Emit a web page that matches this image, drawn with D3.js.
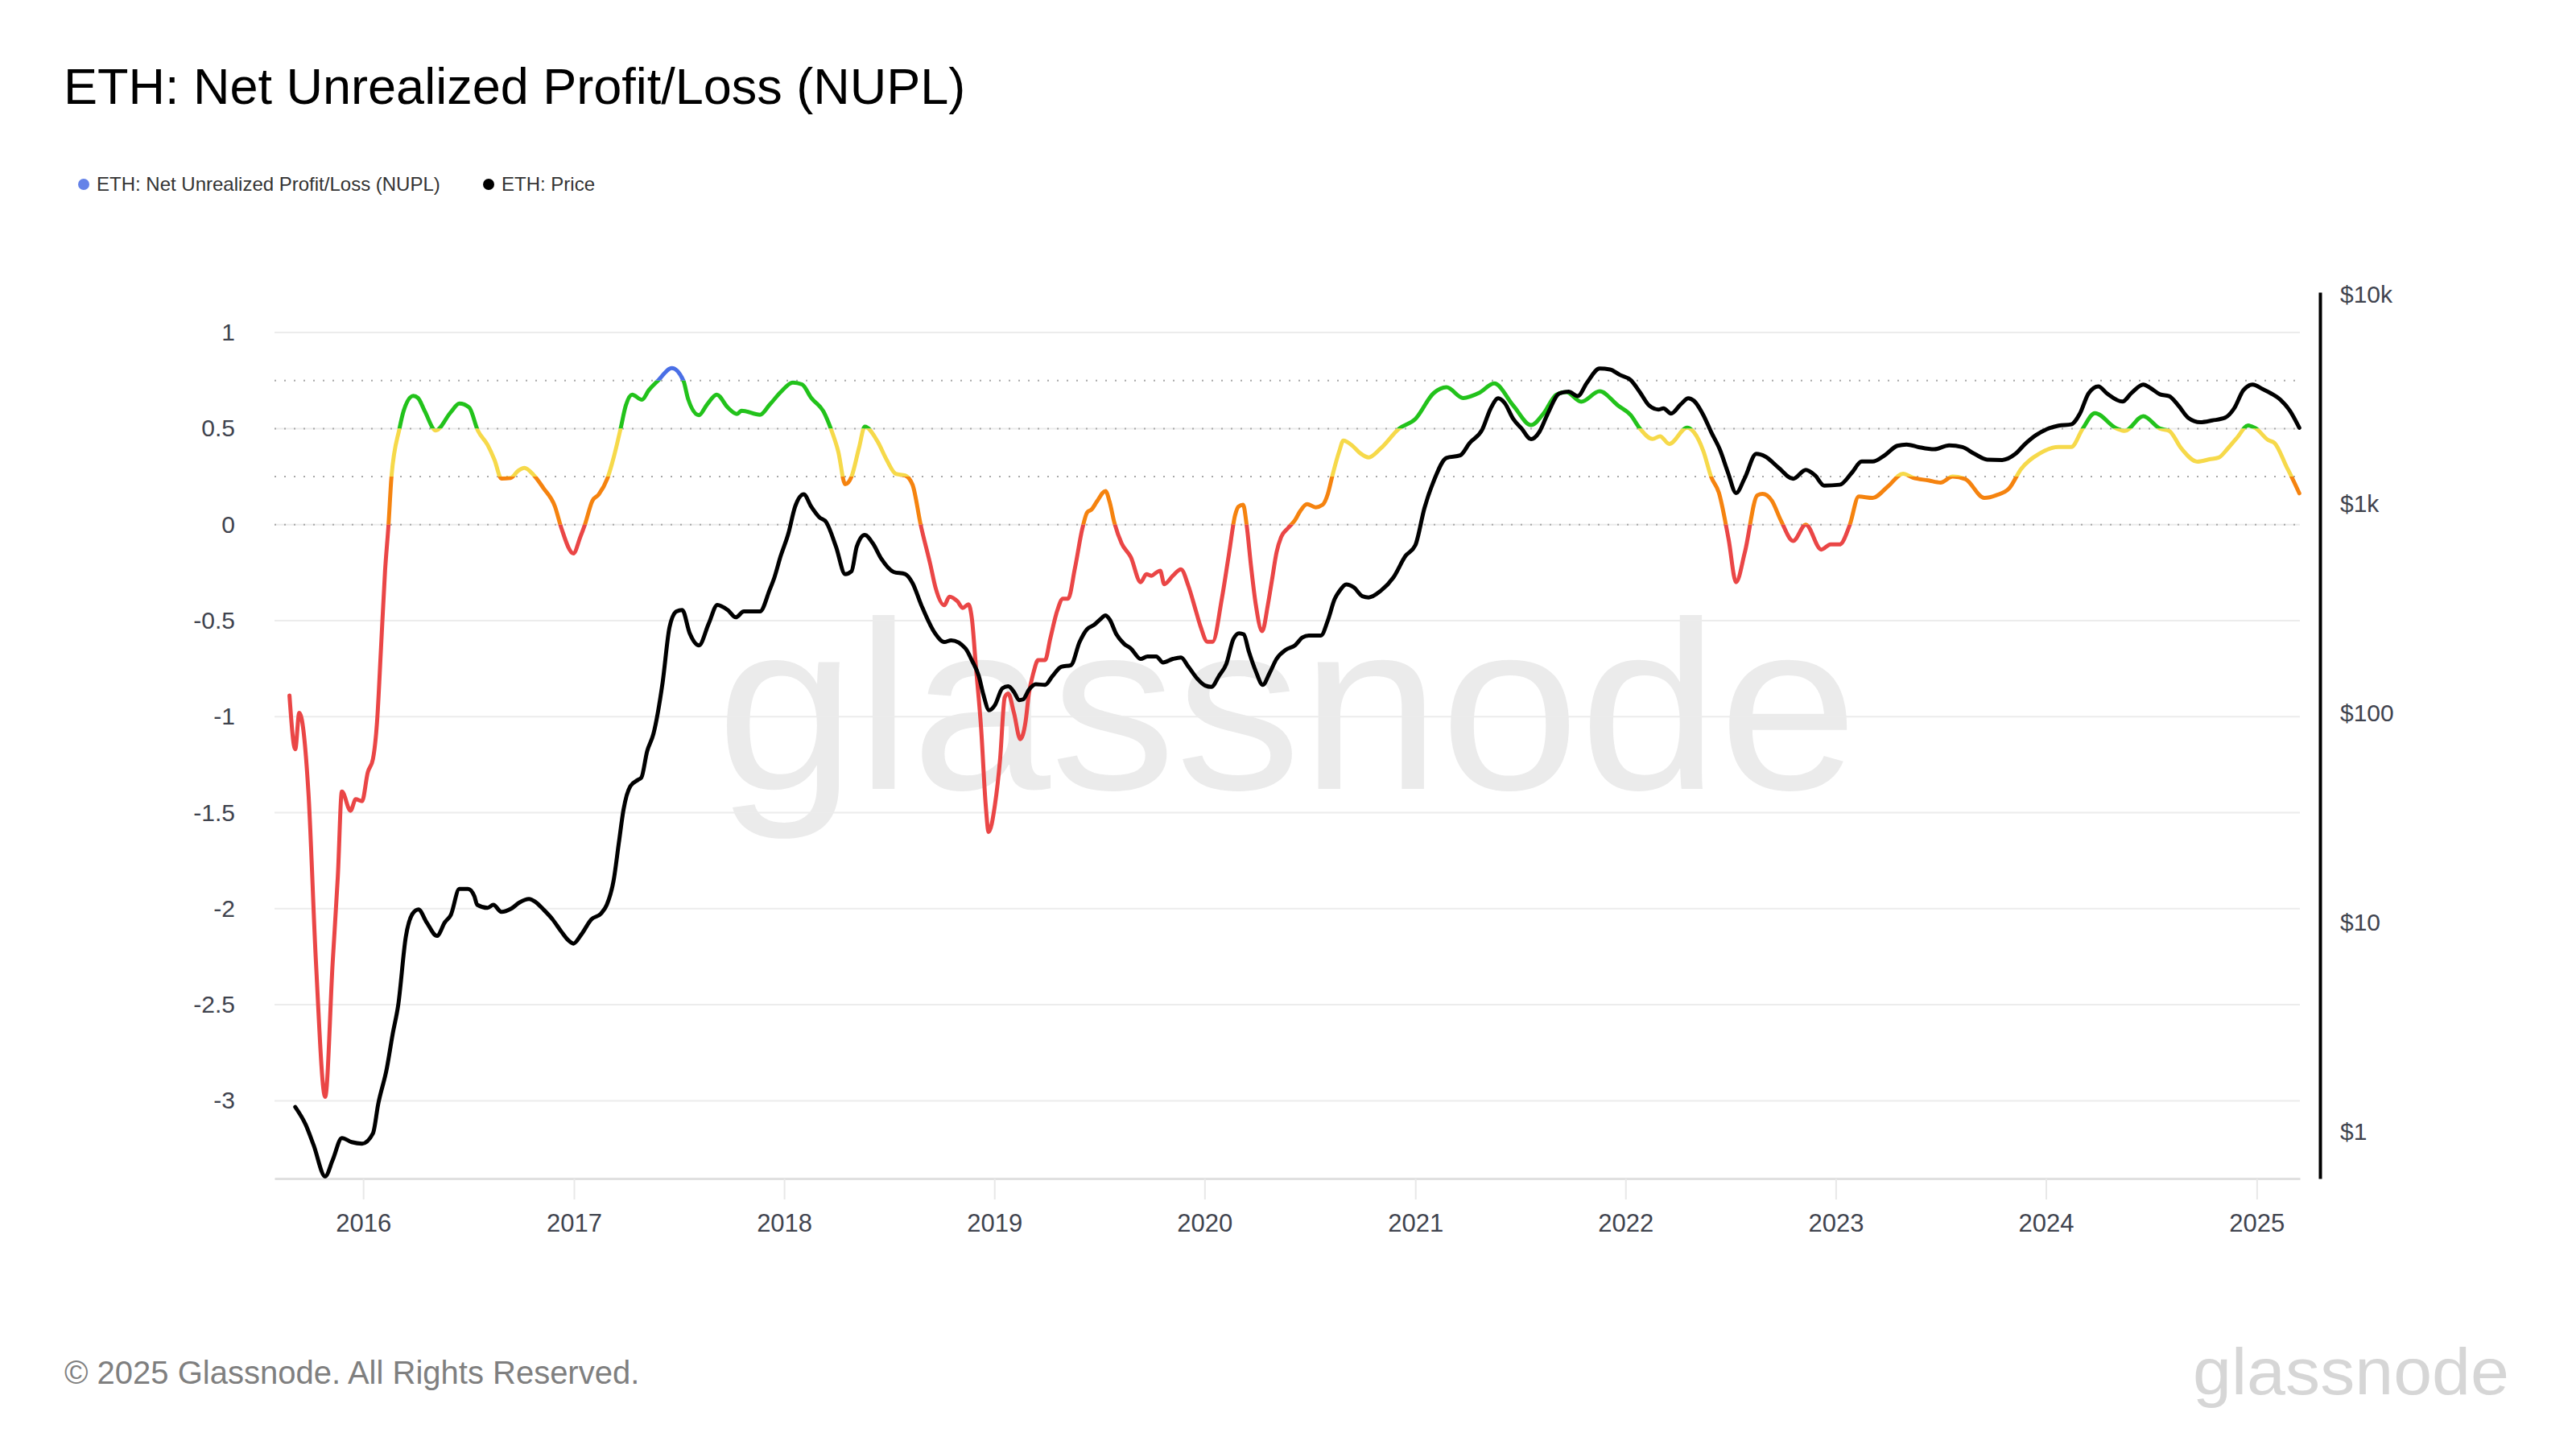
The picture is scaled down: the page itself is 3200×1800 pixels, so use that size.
<!DOCTYPE html>
<html><head><meta charset="utf-8">
<script src="https://cdn.jsdelivr.net/npm/d3@7"></script>
<style>
html,body{margin:0;padding:0;background:#fff;}
svg{display:block;}
text{font-family:"Liberation Sans",Arial,Helvetica,sans-serif;}
</style></head><body>
<svg id="chart" width="3200" height="1800"></svg>
<script>
// ---------------- DATA ----------------
const nuplDates = ["2015-08-26","2015-09-05","2015-09-12","2015-09-28","2015-10-11","2015-10-27","2015-11-09","2015-11-18","2015-11-25","2015-12-10","2015-12-19","2015-12-30",
"2016-01-09","2016-01-18","2016-01-25","2016-02-01","2016-02-08","2016-02-14","2016-02-19","2016-03-04","2016-03-11","2016-03-28","2016-04-05","2016-04-17","2016-05-06","2016-06-01","2016-06-16","2016-07-03","2016-07-18","2016-08-04","2016-08-16","2016-08-28","2016-09-13","2016-09-26","2016-10-07","2016-10-23","2016-11-09","2016-11-29","2016-12-10","2016-12-31",
"2017-01-12","2017-01-20","2017-02-02","2017-02-13","2017-02-28","2017-03-11","2017-03-23","2017-04-01","2017-04-12","2017-04-29","2017-05-11","2017-05-27","2017-06-20","2017-07-10","2017-07-18","2017-08-06","2017-08-20","2017-09-06","2017-09-25","2017-10-11","2017-10-19","2017-11-20","2017-12-07","2017-12-26",
"2018-01-16","2018-02-01","2018-02-17","2018-03-11","2018-03-23","2018-04-05","2018-04-17","2018-04-28","2018-05-11","2018-05-21","2018-06-12","2018-06-28","2018-07-14","2018-07-30","2018-08-12","2018-08-26","2018-09-12","2018-09-21","2018-10-06","2018-10-15","2018-10-29","2018-11-07","2018-11-17","2018-11-23","2018-11-30","2018-12-09","2018-12-17","2018-12-22",
"2019-01-02","2019-01-11","2019-01-19","2019-01-25","2019-02-04","2019-02-15","2019-02-24","2019-03-02","2019-03-10","2019-03-18","2019-03-30","2019-04-08","2019-04-20","2019-04-30","2019-05-09","2019-05-21","2019-06-03","2019-06-11","2019-06-19","2019-06-28","2019-07-13","2019-07-20","2019-07-28","2019-08-10","2019-08-26","2019-09-12","2019-09-22","2019-10-01","2019-10-09","2019-10-16","2019-10-23","2019-11-07","2019-11-21","2019-12-04","2019-12-17","2019-12-25",
"2020-01-06","2020-01-15","2020-01-31","2020-02-12","2020-02-23","2020-02-29","2020-03-08","2020-03-14","2020-03-22","2020-03-30","2020-04-10","2020-04-20","2020-04-27","2020-05-05","2020-05-13","2020-05-25","2020-06-06","2020-06-15","2020-06-27","2020-07-12","2020-07-24","2020-08-02","2020-08-10","2020-08-22","2020-08-29","2020-09-14","2020-09-28","2020-10-12","2020-11-02","2020-12-04",
"2021-01-01","2021-02-02","2021-02-24","2021-03-25","2021-04-22","2021-05-18","2021-06-20","2021-07-21","2021-08-12","2021-09-03","2021-09-20","2021-10-16","2021-11-17","2021-12-19",
"2022-01-10","2022-01-26","2022-02-17","2022-03-02","2022-03-18","2022-04-18","2022-04-30","2022-05-16","2022-05-30","2022-06-12","2022-06-29","2022-07-12","2022-07-27","2022-08-18","2022-08-27","2022-09-12","2022-09-28","2022-10-19","2022-11-10","2022-12-07","2022-12-23",
"2023-01-08","2023-01-25","2023-02-10","2023-03-06","2023-04-02","2023-04-28","2023-05-15","2023-06-11","2023-07-02","2023-07-23","2023-08-14","2023-09-16","2023-10-07","2023-10-29","2023-11-19","2023-12-21",
"2024-01-23","2024-02-14","2024-03-05","2024-03-26","2024-05-03","2024-05-17","2024-06-18","2024-07-17","2024-08-02","2024-08-23","2024-09-20","2024-10-11","2024-10-27","2024-11-12","2024-11-28","2024-12-17","2024-12-30",
"2025-01-21","2025-02-01","2025-02-22","2025-03-03","2025-03-16"];
const nuplValues = [-0.89,-1.17,-0.98,-1.40,-2.28,-2.98,-2.28,-1.83,-1.39,-1.49,-1.43,-1.44,
-1.29,-1.22,-1.03,-0.64,-0.24,0.0,0.245,0.50,0.59,0.67,0.66,0.59,0.49,0.585,0.63,0.61,0.49,0.415,0.337,0.24,0.243,0.28,0.295,0.258,0.19,0.094,-0.017,-0.15,
-0.065,0.0,0.124,0.157,0.24,0.35,0.50,0.62,0.677,0.65,0.70,0.75,0.815,0.75,0.656,0.57,0.625,0.677,0.61,0.576,0.593,0.572,0.625,0.69,
0.74,0.73,0.66,0.585,0.50,0.38,0.21,0.25,0.40,0.51,0.434,0.337,0.264,0.256,0.207,0.0,-0.21,-0.33,-0.42,-0.375,-0.40,-0.434,-0.415,-0.49,-0.74,-1.06,-1.46,-1.60,
-1.46,-1.22,-0.90,-0.88,-0.98,-1.117,-1.03,-0.88,-0.77,-0.706,-0.706,-0.595,-0.45,-0.386,-0.386,-0.226,-0.018,0.063,0.079,0.12,0.175,0.12,0.015,-0.098,-0.17,-0.30,-0.258,-0.266,-0.25,-0.24,-0.31,-0.266,-0.233,-0.32,-0.45,-0.53,
-0.61,-0.61,-0.386,-0.16,0.048,0.094,0.103,0.0,-0.224,-0.417,-0.555,-0.417,-0.29,-0.145,-0.065,-0.018,0.023,0.07,0.107,0.09,0.103,0.159,0.255,0.383,0.438,0.41,0.37,0.35,0.397,0.50,
0.55,0.685,0.715,0.659,0.686,0.735,0.62,0.518,0.58,0.677,0.69,0.64,0.694,0.62,
0.57,0.50,0.446,0.46,0.42,0.505,0.48,0.384,0.246,0.167,-0.077,-0.30,-0.147,0.153,0.16,0.125,0.02,-0.085,0.0,-0.13,-0.103,
-0.103,-0.005,0.146,0.139,0.20,0.265,0.244,0.23,0.219,0.25,0.237,0.139,0.153,0.188,0.29,0.37,
0.404,0.404,0.50,0.58,0.50,0.488,0.565,0.50,0.488,0.397,0.328,0.34,0.349,0.397,0.453,0.516,0.502,
0.44,0.425,0.30,0.246,0.163];

const priceDates = ["2015-09-05","2015-09-23","2015-10-07","2015-10-27","2015-11-09","2015-11-25","2015-12-12","2015-12-30",
"2016-01-18","2016-01-27","2016-02-11","2016-02-21","2016-03-02","2016-03-15","2016-03-27","2016-04-06","2016-04-20","2016-05-08","2016-05-22","2016-06-01","2016-06-16","2016-07-01","2016-07-12","2016-07-17","2016-08-04","2016-08-14","2016-08-28","2016-09-14","2016-09-28","2016-10-15","2016-10-26","2016-11-09","2016-11-25","2016-12-09","2016-12-22","2016-12-31",
"2017-01-14","2017-01-31","2017-02-17","2017-02-27","2017-03-11","2017-03-20","2017-03-28","2017-04-09","2017-04-22","2017-04-28","2017-05-08","2017-05-19","2017-06-04","2017-06-16","2017-06-28","2017-07-08","2017-07-21","2017-08-06","2017-08-23","2017-09-07","2017-09-25","2017-10-09","2017-10-23","2017-11-20","2017-12-07","2017-12-15","2017-12-26",
"2018-01-08","2018-01-20","2018-02-04","2018-02-17","2018-03-03","2018-03-15","2018-04-01","2018-04-17","2018-04-28","2018-05-07","2018-05-21","2018-06-04","2018-06-19","2018-07-10","2018-07-30","2018-08-12","2018-08-27","2018-09-20","2018-10-06","2018-10-18","2018-11-12","2018-11-23","2018-12-05","2018-12-13","2018-12-23",
"2019-01-02","2019-01-15","2019-01-25","2019-02-04","2019-02-13","2019-02-20","2019-03-02","2019-03-14","2019-03-30","2019-04-12","2019-04-27","2019-05-14","2019-05-29","2019-06-11","2019-06-23","2019-07-04","2019-07-13","2019-07-20","2019-08-01","2019-08-14","2019-08-26","2019-09-12","2019-09-24","2019-10-09","2019-10-21","2019-11-07","2019-11-21","2019-12-04","2019-12-20",
"2020-01-02","2020-01-13","2020-01-26","2020-02-08","2020-02-20","2020-03-01","2020-03-09","2020-03-18","2020-03-30","2020-04-11","2020-04-23","2020-05-05","2020-05-21","2020-06-06","2020-06-19","2020-06-30","2020-07-21","2020-08-02","2020-08-14","2020-08-22","2020-09-03","2020-09-16","2020-10-01","2020-10-12","2020-11-02","2020-11-24","2020-12-15",
"2021-01-01","2021-01-17","2021-02-02","2021-02-24","2021-03-20","2021-04-05","2021-04-27","2021-05-12","2021-05-25","2021-06-05","2021-06-20","2021-07-04","2021-07-21","2021-08-04","2021-08-19","2021-09-08","2021-09-24","2021-10-10","2021-10-26","2021-11-17","2021-12-05","2021-12-22",
"2022-01-10","2022-01-26","2022-02-11","2022-02-27","2022-03-08","2022-03-21","2022-04-07","2022-04-20","2022-04-30","2022-05-16","2022-05-30","2022-06-14","2022-06-28","2022-07-12","2022-07-27","2022-08-16","2022-09-01","2022-09-23","2022-10-19","2022-11-10","2022-11-26","2022-12-12",
"2023-01-08","2023-01-29","2023-02-15","2023-03-06","2023-03-27","2023-04-18","2023-05-04","2023-05-25","2023-06-21","2023-07-17","2023-08-09","2023-08-30","2023-09-21","2023-10-17","2023-11-09","2023-11-25","2023-12-15",
"2024-01-07","2024-01-23","2024-02-14","2024-02-29","2024-03-15","2024-04-01","2024-04-16","2024-05-13","2024-05-29","2024-06-18","2024-07-01","2024-07-17","2024-08-02","2024-08-18","2024-09-04","2024-09-25","2024-10-16","2024-11-07","2024-11-23","2024-12-09","2024-12-25",
"2025-01-11","2025-01-26","2025-02-12","2025-02-28","2025-03-16"];
const priceValues = [1.31,1.08,0.86,0.61,0.73,0.93,0.89,0.875,
0.98,1.35,2.0,2.9,4.05,8.5,11.0,11.5,10.0,8.6,10.0,10.8,14.4,14.4,13.3,12.1,11.7,12.1,11.2,11.6,12.4,12.9,12.5,11.5,10.3,9.1,8.2,7.9,
8.75,10.3,11.0,12.1,15.9,24,34.4,44.7,47.8,49,65.5,79.4,140,257,305,310,240,210,267,328,310,286,305,305,388,443,562,
714,966,1107,966,860,815,622,460,475,622,708,645,543,471,460,416,328,240,218,222,203,178,150,122,103,
109,131,134,126,115,116,129,137,136,150,166,169,218,251,263,280,292,280,237,214,203,181,186,186,174,181,184,166,145,
135,133,150,172,225,240,237,196,158,136,155,181,200,210,229,234,234,276,350,381,411,398,361,356,383,444,562,
632,955,1282,1652,1700,1942,2250,2851,3180,3025,2535,2290,2030,2190,2690,3357,3427,3260,3775,4417,4370,4120,
3890,3404,2940,2811,2851,2690,2980,3185,3093,2650,2187,1805,1403,1122,1324,1727,1676,1489,1312,1446,1364,1218,
1230,1403,1587,1587,1700,1888,1915,1860,1817,1897,1860,1727,1622,1615,1727,1915,2124,
2290,2356,2390,2690,3357,3630,3357,3070,3385,3700,3556,3325,3260,2940,2570,2446,2495,2570,2851,3484,3700,
3525,3357,3117,2768,2300];

const nuplTicks = [1, 0.5, 0, -0.5, -1, -1.5, -2, -2.5, -3];
const zoneThresholds = [0.75, 0.5, 0.25, 0];
const priceTicks = [1, 10, 100, 1000, 10000];
const priceTickLabels = ["$1", "$10", "$100", "$1k", "$10k"];
const yearTicks = [2016, 2017, 2018, 2019, 2020, 2021, 2022, 2023, 2024, 2025];
const zoneColors = ["#4a6fe6", "#22c21b", "#f6d94a", "#f5830f", "#ea4646"]; // >0.75, 0.5-0.75, 0.25-0.5, 0-0.25, <0

const titleText = "ETH: Net Unrealized Profit/Loss (NUPL)";
const legendItems = [
  {label: "ETH: Net Unrealized Profit/Loss (NUPL)", color: "#6482e8"},
  {label: "ETH: Price", color: "#000000"}
];
const footerText = "© 2025 Glassnode. All Rights Reserved.";
const brand = "glassnode";

// ---------------- CHART ----------------
const svg = d3.select("#chart");
const parse = d3.utcParse("%Y-%m-%d");
const plot = {left: 341, right: 2857, top: 363, bottom: 1464};

const x = d3.scaleUtc()
  .domain([parse("2015-07-31"), parse("2025-03-17")])
  .range([plot.left, plot.right]);
const yN = d3.scaleLinear().domain([-3.405, 1.21]).range([plot.bottom, plot.top]);
const yP = d3.scaleLog().domain([0.596, 10223]).range([plot.bottom, plot.top]);

svg.append("rect").attr("width", 3200).attr("height", 1800).attr("fill", "#fff");

// Title
svg.append("text").attr("x", 79).attr("y", 129)
  .attr("font-size", 63).attr("fill", "#000").text(titleText);

// Legend
const legendX = [104, 607];
legendItems.forEach((it, i) => {
  svg.append("circle").attr("cx", legendX[i]).attr("cy", 229).attr("r", 7).attr("fill", it.color);
  svg.append("text").attr("x", legendX[i] + 16).attr("y", 237)
    .attr("font-size", 24).attr("fill", "#333").text(it.label);
});

// Watermark
svg.append("text").attr("x", (plot.left + plot.right) / 2).attr("y", 980)
  .attr("text-anchor", "middle")
  .attr("font-family", "Inter, 'Open Sans', sans-serif").attr("font-weight", 500)
  .attr("font-size", 298).attr("fill", "#ebebeb")
  .attr("textLength", 1418).attr("lengthAdjust", "spacingAndGlyphs")
  .text(brand);

// Grid lines
svg.append("g").selectAll("line").data(nuplTicks).join("line")
  .attr("x1", plot.left).attr("x2", plot.right)
  .attr("y1", d => yN(d)).attr("y2", d => yN(d))
  .attr("stroke", "#ececec").attr("stroke-width", 2);

svg.append("g").selectAll("line").data(zoneThresholds).join("line")
  .attr("x1", plot.left).attr("x2", plot.right)
  .attr("y1", d => yN(d)).attr("y2", d => yN(d))
  .attr("stroke", "#a8a8a8").attr("stroke-width", 2)
  .attr("stroke-dasharray", "2,10");

// X axis
const xAxis = d3.axisBottom(x)
  .tickValues(yearTicks.map(yr => new Date(Date.UTC(yr, 0, 1))))
  .tickFormat(d3.utcFormat("%Y"))
  .tickSize(26).tickSizeOuter(0).tickPadding(18);
const gx = svg.append("g").attr("transform", `translate(0,${plot.bottom})`).call(xAxis);
gx.select(".domain").attr("stroke", "#e0e0e0").attr("stroke-width", 3);
gx.selectAll(".tick line").attr("stroke", "#e8e8e8").attr("stroke-width", 2);
gx.selectAll(".tick text").attr("font-size", 31).attr("fill", "#3f434e")
  .attr("font-family", "'Liberation Sans', Arial, sans-serif");

// Left axis
const yAxisL = d3.axisLeft(yN).tickValues(nuplTicks)
  .tickFormat(d => String(d)).tickSize(0).tickPadding(49);
const gl = svg.append("g").attr("transform", `translate(${plot.left},0)`).call(yAxisL);
gl.select(".domain").remove();
gl.selectAll(".tick text").attr("font-size", 30).attr("fill", "#3f434e")
  .attr("font-family", "'Liberation Sans', Arial, sans-serif");

// Right axis
const yAxisR = d3.axisRight(yP).tickValues(priceTicks)
  .tickFormat((d, i) => priceTickLabels[i]).tickSize(0).tickSizeOuter(0).tickPadding(25);
const gr = svg.append("g").attr("transform", `translate(2882,0)`).call(yAxisR);
gr.select(".domain").attr("stroke", "#000").attr("stroke-width", 4);
gr.selectAll(".tick text").attr("font-size", 30).attr("fill", "#3f434e")
  .attr("font-family", "'Liberation Sans', Arial, sans-serif");

// NUPL zones via clip paths
const nuplData = nuplDates.map((d, i) => ({date: parse(d), v: nuplValues[i]}));
const priceData = priceDates.map((d, i) => ({date: parse(d), v: priceValues[i]}));

const bands = [
  [plot.top - 50, yN(0.75)],
  [yN(0.75), yN(0.5)],
  [yN(0.5), yN(0.25)],
  [yN(0.25), yN(0)],
  [yN(0), plot.bottom + 50]
];
const defs = svg.append("defs");
bands.forEach((b, i) => {
  defs.append("clipPath").attr("id", "zone" + i)
    .append("rect").attr("x", 0).attr("width", 3200)
    .attr("y", b[0]).attr("height", b[1] - b[0]);
});

const nuplLine = d3.line().x(d => x(d.date)).y(d => yN(d.v)).curve(d3.curveMonotoneX);
const gN = svg.append("g");
bands.forEach((b, i) => {
  gN.append("path").datum(nuplData)
    .attr("clip-path", `url(#zone${i})`)
    .attr("d", nuplLine).attr("fill", "none")
    .attr("stroke", zoneColors[i]).attr("stroke-width", 5)
    .attr("stroke-linejoin", "round").attr("stroke-linecap", "round");
});

const priceLine = d3.line().x(d => x(d.date)).y(d => yP(d.v)).curve(d3.curveMonotoneX);
svg.append("path").datum(priceData)
  .attr("d", priceLine).attr("fill", "none")
  .attr("stroke", "#000").attr("stroke-width", 5)
  .attr("stroke-linejoin", "round").attr("stroke-linecap", "round");

// Footer
svg.append("text").attr("x", 80).attr("y", 1719)
  .attr("font-size", 40).attr("fill", "#7f7f7f").text(footerText);
svg.append("text").attr("x", 2724).attr("y", 1732)
  .attr("font-family", "Inter, 'Open Sans', sans-serif").attr("font-weight", 500)
  .attr("font-size", 82).attr("fill", "#d6d6d6")
  .attr("textLength", 393).attr("lengthAdjust", "spacingAndGlyphs")
  .text(brand);
</script>
</body></html>
